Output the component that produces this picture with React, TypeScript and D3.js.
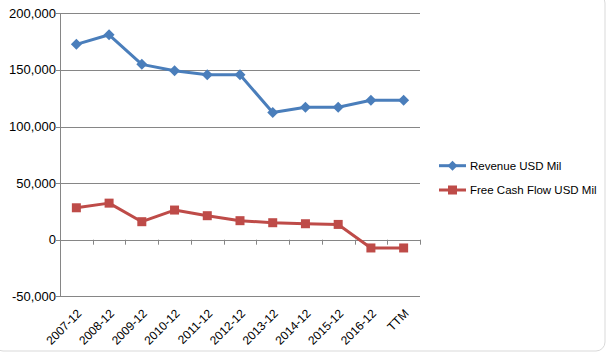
import React from "react";
import * as d3 from "d3";

const categories = ["2007-12","2008-12","2009-12","2010-12","2011-12","2012-12","2013-12","2014-12","2015-12","2016-12","TTM"];
const revenue = [172600, 181000, 154900, 149300, 145800, 145800, 112300, 117000, 117000, 123200, 123200];
const fcf = [28200, 32300, 15900, 26200, 21200, 16800, 15000, 14100, 13500, -7300, -7300];
const yTicks = [-50000, 0, 50000, 100000, 150000, 200000];
const seriesNames = ["Revenue USD Mil", "Free Cash Flow USD Mil"];

const W = 610, H = 353;
const left = 60, right = 420, top = 13.3, bottom = 296.3;
const FONT = "'Liberation Sans', Arial, sans-serif";
const BLUE = "#4a7ebb";
const RED = "#be4b48";
const GRID = "#868686";

export default function App() {
  const x = d3.scaleBand<string>().domain(categories).range([left, right]);
  const y = d3.scaleLinear().domain([-50000, 200000]).range([bottom, top]);
  const cx = (c: string) => (x(c) as number) + x.bandwidth() / 2;
  const fmt = (v: number) => d3.format(",")(v).replace("\u2212", "-");
  const line = d3.line<number>().x((_, i) => cx(categories[i])).y(v => y(v));
  const y0 = y(0);
  const boundaries = categories.map(c => x(c) as number).concat([right]);
  const diamond = (px: number, py: number, r: number) => `M${px},${py - r}L${px + r},${py}L${px},${py + r}L${px - r},${py}Z`;

  return (
    <svg width={W} height={H} style={{ position: "absolute", left: 0, top: 0, background: "#fff" }} fontFamily={FONT}>
      <rect x={-6} y={-6} width={611} height={357} rx={9} fill="#fff" stroke="#d9d9d9" strokeWidth={1} />
      {yTicks.map(t => (
        <g key={t}>
          <line x1={left - 4} x2={right} y1={Math.round(y(t)) + 0.5} y2={Math.round(y(t)) + 0.5} stroke={GRID} strokeWidth={1} />
          <text x={left - 4} y={y(t)} dy="0.35em" textAnchor="end" fontSize={13} fill="#000">{fmt(t)}</text>
        </g>
      ))}
      <line x1={left + 0.5} x2={left + 0.5} y1={top} y2={bottom} stroke={GRID} strokeWidth={1} />
      {boundaries.map((b, i) => (
        <line key={i} x1={Math.round(b) + 0.5} x2={Math.round(b) + 0.5} y1={y0} y2={y0 + 5} stroke={GRID} strokeWidth={1} />
      ))}
      {categories.map(c => (
        <text key={c} transform={`translate(${cx(c) + 3},${bottom + 15}) rotate(-45)`} textAnchor="end" fontSize={12} dy="0.35em" fill="#000">{c}</text>
      ))}
      <path d={line(revenue) as string} fill="none" stroke={BLUE} strokeWidth={3} strokeLinejoin="round" />
      {revenue.map((v, i) => (
        <path key={i} d={diamond(cx(categories[i]), y(v), 5.5)} fill={BLUE} />
      ))}
      <path d={line(fcf) as string} fill="none" stroke={RED} strokeWidth={3} strokeLinejoin="round" />
      {fcf.map((v, i) => (
        <rect key={i} x={cx(categories[i]) - 4.5} y={y(v) - 4.5} width={9} height={9} fill={RED} />
      ))}
      <g>
        <line x1={439} x2={466} y1={165.7} y2={165.7} stroke={BLUE} strokeWidth={3} />
        <path d={diamond(452.5, 165.7, 5)} fill={BLUE} />
        <text x={470} y={165.7} dy="0.35em" fontSize={11.5} fill="#000">{seriesNames[0]}</text>
        <line x1={439} x2={466} y1={190} y2={190} stroke={RED} strokeWidth={3} />
        <rect x={448} y={185.5} width={9} height={9} fill={RED} />
        <text x={470} y={190} dy="0.35em" fontSize={11.5} fill="#000">{seriesNames[1]}</text>
      </g>
    </svg>
  );
}
